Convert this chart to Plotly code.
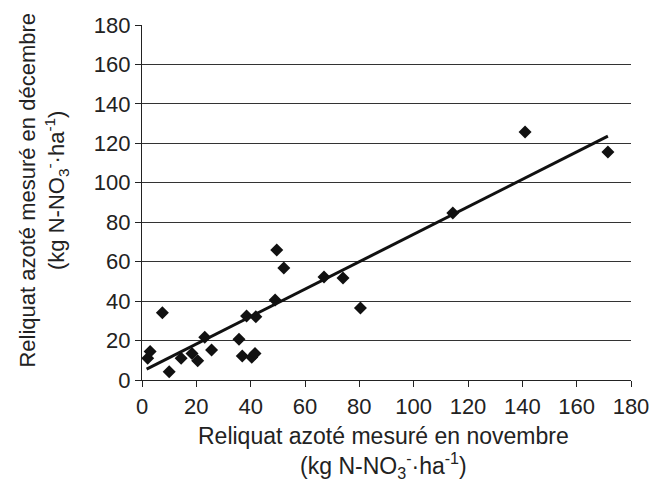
import plotly.graph_objects as go
import numpy as np

# Data
nov_x = [2.1, 3.0, 7.5, 10.0, 14.4, 18.4, 20.5, 23.1, 25.6, 35.7, 36.9, 38.5,
         40.4, 41.6, 41.9, 49.0, 49.6, 52.2, 67.0, 74.0, 80.4, 114.4, 141.0, 171.5]
dec_y = [11.0, 14.4, 34.1, 4.2, 11.0, 13.5, 9.8, 21.7, 15.2, 20.6, 12.2, 32.5,
         11.5, 13.5, 32.1, 40.6, 65.9, 56.8, 52.2, 51.7, 36.5, 84.7, 125.8, 115.6]
trend_slope = 0.696
trend_intercept = 4.3
tick_vals = [0, 20, 40, 60, 80, 100, 120, 140, 160, 180]

line_x = np.array([min(nov_x) - 0.4, max(nov_x)])
line_y = trend_intercept + trend_slope * line_x

FONT = "Liberation Sans, Arial, sans-serif"
TXT = "#222222"

fig = go.Figure()
fig.add_trace(go.Scatter(x=nov_x, y=dec_y, mode="markers",
                         marker=dict(symbol="diamond", size=10, color="#111111"),
                         showlegend=False))
fig.add_trace(go.Scatter(x=line_x, y=line_y, mode="lines",
                         line=dict(color="#111111", width=3), showlegend=False))

fig.update_layout(
    width=660, height=481,
    margin=dict(l=134, r=37, t=17, b=109),
    paper_bgcolor="white", plot_bgcolor="white",
    font=dict(family=FONT, size=22, color=TXT),
    xaxis=dict(range=[0, 180], tickvals=tick_vals, showgrid=False, zeroline=False,
               showline=True, linecolor=TXT, linewidth=1.2,
               ticks="outside", ticklen=6, tickcolor=TXT, fixedrange=True,
               automargin=False),
    yaxis=dict(range=[0, 180], tickvals=tick_vals, showgrid=True, gridcolor="#333333",
               gridwidth=1.2, zeroline=False,
               showline=True, linecolor=TXT, linewidth=1.2,
               ticks="outside", ticklen=6, tickcolor=TXT, fixedrange=True,
               automargin=False),
    annotations=[
        dict(text="Reliquat azoté mesuré en novembre<br>(kg N-NO<sub>3</sub><sup>-</sup>·ha<sup>-1</sup>)",
             xref="paper", yref="paper", x=0.494, y=-0.116, xanchor="center", yanchor="top",
             showarrow=False, font=dict(family=FONT, size=23, color=TXT)),
        dict(text="Reliquat azoté mesuré en décembre<br>(kg N-NO<sub>3</sub><sup>-</sup>·ha<sup>-1</sup>)",
             xref="paper", yref="paper", x=-0.14, y=0.535, xanchor="right", yanchor="middle",
             textangle=-90, showarrow=False, font=dict(family=FONT, size=22, color=TXT)),
    ],
)

fig.write_html("out.html")
